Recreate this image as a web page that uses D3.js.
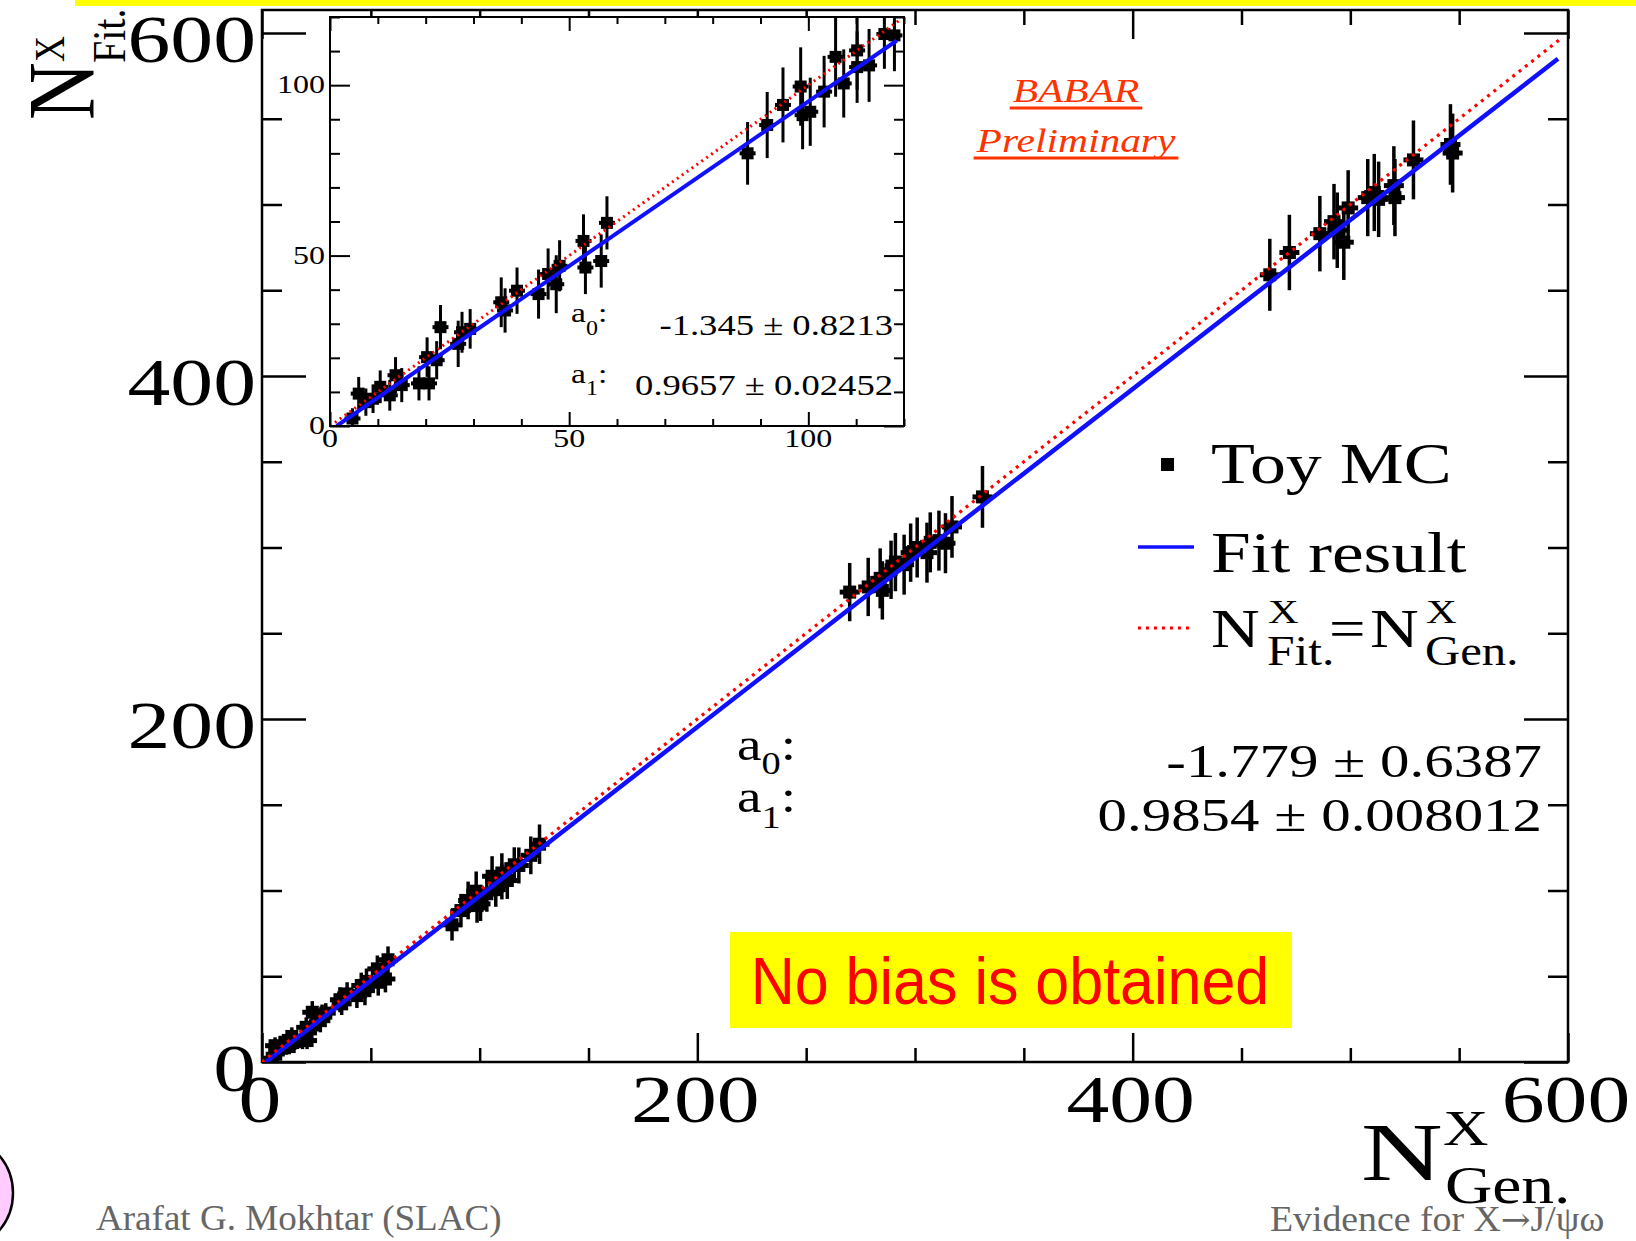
<!DOCTYPE html>
<html><head><meta charset="utf-8">
<script src="https://cdn.jsdelivr.net/npm/d3@7"></script>
<style>html,body{margin:0;padding:0;background:#fff;} svg{display:block;}</style>
</head><body>
<svg id="chart" width="1636" height="1241"></svg>
<script>
// ---------------- data ----------------
const genN = [4.7, 6.0, 7.5, 9.0, 10.5, 12.5, 13.7, 15.0, 18.6, 20.7, 20.3, 22.3, 23.1, 26.8, 27.6, 29.3,
  35.8, 36.6, 39.1, 43.6, 45.6, 47.3, 48.0, 53.0, 53.4, 56.7, 57.9,
  87.3, 91.4, 94.7, 98.4, 98.8, 100.4, 103.3, 105.7, 107.4, 110.2, 110.2, 112.7, 115.9, 118.0, 123.5, 127.5,
  270, 278.5, 284, 285, 289, 291, 295, 298, 301, 305.5, 307, 311, 314, 317, 331,
  463, 472, 486, 492.5, 494, 497, 499, 508, 511, 513, 520, 520.5, 529, 546, 547];
const fitN = [2.2, 9.5, 7.0, 8.0, 11.5, 9.0, 14.9, 12.0, 12.5, 12.5, 20.2, 19.3, 29.0, 24.1, 27.5, 28.5,
  36.3, 33.9, 39.7, 38.7, 44.6, 41.6, 47.0, 54.3, 46.5, 48.4, 59.6,
  80.0, 88.3, 94.2, 99.6, 91.2, 92.2, 98.1, 108.3, 100.5, 110.2, 105.3, 105.8, 115.0, 114.6, 120.5, 127.0,
  274, 277, 282, 275, 287, 291.5, 290, 297, 300, 297, 303, 304, 302.5, 312, 329.5,
  459, 472, 483, 490, 485, 478, 498, 504, 507, 503, 511, 504, 526, 535, 530];
const fitErr = [3.0, 4.9, 4.0, 4.2, 4.8, 4.5, 5.3, 5.0, 5.0, 5.0, 5.8, 5.6, 6.5, 6.8, 6.0, 5.8,
  7.3, 6.5, 6.8, 7.2, 7.5, 8.5, 7.5, 7.8, 7.8, 7.8, 7.8,
  9.2, 9.7, 11.0, 11.5, 10.0, 10.0, 10.5, 11.7, 10.0, 11.5, 10.5, 10.7, 10.2, 10.5, 11.0, 11.5,
  17, 17, 17.5, 17, 17, 17, 17.5, 17, 17.5, 17.5, 17.5, 17.5, 17.5, 18, 18,
  21, 22, 22, 22, 22, 22, 22, 22.5, 22.5, 22, 23, 22.5, 23, 23.5, 23];

// fit line (blue) and N_Fit = N_Gen line (red), end points
const mainFitGen = [1.8, 595.4], mainFitFit = [0, 585.0];
const mainDiagGen = [0, 597], mainDiagFit = [0, 597];
const insetFitGen = [1.4, 118.5], insetFitFit = [0, 113.1];
const insetDiagGen = [0, 119], insetDiagFit = [0, 119];

const mainTickLabels = ["0", "200", "400", "600"];
const mainTickValues = [0, 200, 400, 600];
const insetTickLabels = ["0", "50", "100"];
const insetTickValues = [0, 50, 100];

const legendLabels = ["Toy MC", "Fit result"];
const mainStatNames = ["0", "1"];
const mainStatValues = ["-1.779 \u00b1 0.6387", "0.9854 \u00b1 0.008012"];
const insetStatValues = ["-1.345 \u00b1 0.8213", "0.9657 \u00b1 0.02452"];

// ---------------- drawing ----------------
const svg = d3.select("#chart");
const SERIF = "'Liberation Serif','Times New Roman',serif";
const ST = 1.26; // horizontal stretch of the plot text

function txt(g, x, y, s, o = {}) {
  const st = o.stretch == null ? ST : o.stretch;
  let tr = `translate(${x},${y})`;
  if (o.rotate) tr += ` rotate(${o.rotate}) scale(1,${st})`; else tr += ` scale(${st},1)`;
  return g.append("text").attr("transform", tr)
    .attr("font-family", o.family || SERIF)
    .attr("font-size", o.size || 40)
    .attr("font-style", o.style || "normal")
    .attr("font-weight", o.weight || "normal")
    .attr("text-anchor", o.anchor || "start")
    .attr("fill", o.fill || "#000")
    .text(s);
}

// top yellow strip
svg.append("rect").attr("x", 75).attr("y", 0).attr("width", 1561).attr("height", 6).attr("fill", "#ffff00");

// ---- main plot scales
const x = d3.scaleLinear().domain([0, 600]).range([262, 1568]);
const y = d3.scaleLinear().domain([0, 600]).range([1062, 33]);
const yTop = y.invert(10);

const defs = svg.append("defs");
defs.append("clipPath").attr("id", "clipMain").append("rect")
  .attr("x", x(0)).attr("y", y(yTop)).attr("width", x(600) - x(0)).attr("height", y(0) - y(yTop));

const main = svg.append("g");

function tickAxis(g, axis, scale, vals, size, sw) {
  g.call(axis(scale).tickValues(vals).tickSize(size).tickFormat(""));
  g.select(".domain").remove();
  g.selectAll("line").attr("stroke", "#000").attr("stroke-width", sw);
}
const mainAll = d3.range(0, 601, 50);
const mainMinor = mainAll.filter(v => !mainTickValues.includes(v));

tickAxis(main.append("g").attr("transform", `translate(0,${y(0)})`), d3.axisBottom, x, mainMinor, -14, 2.5);
tickAxis(main.append("g").attr("transform", `translate(0,${y(0)})`), d3.axisBottom, x, mainTickValues, -29, 2.5);
tickAxis(main.append("g").attr("transform", `translate(0,${y(yTop)})`), d3.axisTop, x, mainMinor, -15, 2.5);
tickAxis(main.append("g").attr("transform", `translate(0,${y(yTop)})`), d3.axisTop, x, mainTickValues, -29, 2.5);
tickAxis(main.append("g").attr("transform", `translate(${x(0)},0)`), d3.axisLeft, y, mainMinor, -20, 2.5);
tickAxis(main.append("g").attr("transform", `translate(${x(0)},0)`), d3.axisLeft, y, mainTickValues, -44, 2.5);
tickAxis(main.append("g").attr("transform", `translate(${x(600)},0)`), d3.axisRight, y, mainMinor, -20, 2.5);
tickAxis(main.append("g").attr("transform", `translate(${x(600)},0)`), d3.axisRight, y, mainTickValues, -44, 2.5);

// frame
main.append("rect").attr("x", x(0)).attr("y", y(yTop)).attr("width", x(600) - x(0)).attr("height", y(0) - y(yTop))
  .attr("fill", "none").attr("stroke", "#000").attr("stroke-width", 2.5);

// tick labels
mainTickValues.forEach((v, i) => {
  txt(main, x(v) - 2, y(0) + 60, mainTickLabels[i], { size: 68, anchor: "middle" });
  txt(main, x(0) - 6, y(v) + 29, mainTickLabels[i], { size: 68, anchor: "end" });
});

// axis titles
txt(main, 1361, 1180, "N", { size: 82, stretch: 1.38 });
txt(main, 1443, 1145, "X", { size: 50 });
txt(main, 1445, 1203, "Gen.", { size: 52 });
txt(main, 94, 120, "N", { size: 80, rotate: -90, stretch: 1.18 });
txt(main, 64, 62, "X", { size: 36, rotate: -90, stretch: 1.15 });
txt(main, 125, 63, "Fit.", { size: 40, rotate: -90, stretch: 1.15 });

// data points
const pts = genN.map((g, i) => ({ g, f: fitN[i], e: fitErr[i] }));
const pm = main.append("g").attr("clip-path", "url(#clipMain)");
pm.selectAll("line.err").data(pts).join("line").attr("class", "err")
  .attr("x1", d => x(d.g)).attr("x2", d => x(d.g))
  .attr("y1", d => y(d.f - d.e)).attr("y2", d => y(d.f + d.e))
  .attr("stroke", "#000").attr("stroke-width", 3.5);
pm.selectAll("line.hx").data(pts).join("line").attr("class", "hx")
  .attr("x1", d => x(d.g) - 10).attr("x2", d => x(d.g) + 10)
  .attr("y1", d => y(d.f)).attr("y2", d => y(d.f))
  .attr("stroke", "#000").attr("stroke-width", 5);
pm.selectAll("rect.mk").data(pts).join("rect").attr("class", "mk")
  .attr("x", d => x(d.g) - 6.5).attr("y", d => y(d.f) - 6.5).attr("width", 13).attr("height", 13).attr("fill", "#000");

// lines
const lineGen = (xs, ys, sx, sy) => d3.line().x(d => sx(d[0])).y(d => sy(d[1]))(xs.map((v, i) => [v, ys[i]]));
pm.append("path").attr("d", lineGen(mainFitGen, mainFitFit, x, y)).attr("stroke", "#1010ff").attr("stroke-width", 4.5).attr("fill", "none");
pm.append("path").attr("d", lineGen(mainDiagGen, mainDiagFit, x, y)).attr("stroke", "#ff0000").attr("stroke-width", 3.2)
  .attr("stroke-dasharray", "3,5").attr("fill", "none");

// legend
main.append("rect").attr("x", 1161).attr("y", 458).attr("width", 13).attr("height", 13).attr("fill", "#000");
txt(main, 1211, 483, legendLabels[0], { size: 58, stretch: 1.24 });
main.append("line").attr("x1", 1138).attr("x2", 1194).attr("y1", 547).attr("y2", 547).attr("stroke", "#1010ff").attr("stroke-width", 3.5);
txt(main, 1211, 572, legendLabels[1], { size: 58, stretch: 1.23 });
main.append("line").attr("x1", 1138).attr("x2", 1194).attr("y1", 628).attr("y2", 628).attr("stroke", "#ff0000").attr("stroke-width", 3).attr("stroke-dasharray", "3,5");
txt(main, 1211, 647, "N", { size: 54, stretch: 1.25 });
txt(main, 1268, 623, "X", { size: 34, stretch: 1.25 });
txt(main, 1267, 665, "Fit.", { size: 42, stretch: 1.18 });
txt(main, 1329, 647, "=", { size: 54, stretch: 1.2 });
txt(main, 1370, 647, "N", { size: 54, stretch: 1.25 });
txt(main, 1426, 623, "X", { size: 34, stretch: 1.25 });
txt(main, 1425, 665, "Gen.", { size: 42, stretch: 1.16 });

// fit statistics (main)
[[760, 774], [812, 828]].forEach((b, i) => {
  const t = txt(main, 737, b[0], "", { size: 46, stretch: 1.2 });
  t.append("tspan").text("a");
  t.append("tspan").attr("dy", b[1] - b[0]).attr("font-size", 32).text(mainStatNames[i]);
  t.append("tspan").attr("dy", b[0] - b[1]).text(":");
  txt(main, 1542, b[1] + 3, mainStatValues[i], { size: 46, anchor: "end", stretch: 1.28 });
});

// BABAR Preliminary
const babar = [["BABAR", 102, 108], ["Preliminary", 152, 158]];
babar.forEach(b => {
  const t = txt(main, 1076, b[1], b[0], { size: 34, anchor: "middle", style: "italic", fill: "#ff3300", stretch: 1.22 });
  const w = t.node().getComputedTextLength() * 1.22;
  main.append("line").attr("x1", 1076 - w / 2 - 3).attr("x2", 1076 + w / 2 + 3).attr("y1", b[2]).attr("y2", b[2])
    .attr("stroke", "#ff3300").attr("stroke-width", 3);
});

// ---- inset
const xi = d3.scaleLinear().domain([0, 120]).range([330, 904]);
const yi = d3.scaleLinear().domain([0, 120]).range([426, 17]);
defs.append("clipPath").attr("id", "clipInset").append("rect")
  .attr("x", xi(0)).attr("y", yi(120)).attr("width", xi(120) - xi(0)).attr("height", yi(0) - yi(120));
const ins = svg.append("g");
ins.append("rect").attr("x", xi(0)).attr("y", yi(120)).attr("width", xi(120) - xi(0)).attr("height", yi(0) - yi(120)).attr("fill", "#fff");

const inAll = d3.range(0, 121, 10);
const inMinor = inAll.filter(v => !insetTickValues.includes(v));
tickAxis(ins.append("g").attr("transform", `translate(0,${yi(0)})`), d3.axisBottom, xi, inMinor, -7, 2);
tickAxis(ins.append("g").attr("transform", `translate(0,${yi(0)})`), d3.axisBottom, xi, insetTickValues, -14, 2);
tickAxis(ins.append("g").attr("transform", `translate(0,${yi(120)})`), d3.axisTop, xi, inMinor, -7, 2);
tickAxis(ins.append("g").attr("transform", `translate(0,${yi(120)})`), d3.axisTop, xi, insetTickValues, -14, 2);
tickAxis(ins.append("g").attr("transform", `translate(${xi(0)},0)`), d3.axisLeft, yi, inMinor, -10, 2);
tickAxis(ins.append("g").attr("transform", `translate(${xi(0)},0)`), d3.axisLeft, yi, insetTickValues, -20, 2);
tickAxis(ins.append("g").attr("transform", `translate(${xi(120)},0)`), d3.axisRight, yi, inMinor, -10, 2);
tickAxis(ins.append("g").attr("transform", `translate(${xi(120)},0)`), d3.axisRight, yi, insetTickValues, -20, 2);

const ip = ins.append("g").attr("clip-path", "url(#clipInset)");
const ipts = pts.filter(d => d.g <= 120);
ip.selectAll("line.err").data(ipts).join("line").attr("class", "err")
  .attr("x1", d => xi(d.g)).attr("x2", d => xi(d.g))
  .attr("y1", d => yi(d.f - d.e)).attr("y2", d => yi(d.f + d.e))
  .attr("stroke", "#000").attr("stroke-width", 3);
ip.selectAll("line.hx").data(ipts).join("line").attr("class", "hx")
  .attr("x1", d => xi(d.g) - 8).attr("x2", d => xi(d.g) + 8)
  .attr("y1", d => yi(d.f)).attr("y2", d => yi(d.f))
  .attr("stroke", "#000").attr("stroke-width", 4);
ip.selectAll("rect.mk").data(ipts).join("rect").attr("class", "mk")
  .attr("x", d => xi(d.g) - 6).attr("y", d => yi(d.f) - 6).attr("width", 12).attr("height", 12).attr("fill", "#000");
ip.append("path").attr("d", lineGen(insetFitGen, insetFitFit, xi, yi)).attr("stroke", "#1010ff").attr("stroke-width", 4).attr("fill", "none");
ip.append("path").attr("d", lineGen(insetDiagGen, insetDiagFit, xi, yi)).attr("stroke", "#ff0000").attr("stroke-width", 3)
  .attr("stroke-dasharray", "2,4").attr("fill", "none");

ins.append("rect").attr("x", xi(0)).attr("y", yi(120)).attr("width", xi(120) - xi(0)).attr("height", yi(0) - yi(120))
  .attr("fill", "none").attr("stroke", "#000").attr("stroke-width", 2);

insetTickValues.forEach((v, i) => {
  txt(ins, xi(v), yi(0) + 21, insetTickLabels[i], { size: 25, anchor: "middle", stretch: 1.28 });
  txt(ins, xi(0) - 5, yi(v) + 8, insetTickLabels[i], { size: 25, anchor: "end", stretch: 1.28 });
});

[[322, 335], [383, 395]].forEach((b, i) => {
  const t = txt(ins, 571, b[0], "", { size: 28, stretch: 1.2 });
  t.append("tspan").text("a");
  t.append("tspan").attr("dy", b[1] - b[0]).attr("font-size", 20).text(mainStatNames[i]);
  t.append("tspan").attr("dy", b[0] - b[1]).text(":");
  txt(ins, 893, b[1], insetStatValues[i], { size: 30, anchor: "end", stretch: 1.22 });
});

// ---- "No bias is obtained" box
svg.append("rect").attr("x", 730).attr("y", 932).attr("width", 562).attr("height", 96).attr("fill", "#ffff00");
txt(svg, 1010, 1004, "No bias is obtained", { size: 67, anchor: "middle", family: "'Liberation Sans',Arial,sans-serif", fill: "#ff0000", stretch: 0.91 });

// ---- footer
svg.append("circle").attr("cx", -45).attr("cy", 1193).attr("r", 58).attr("fill", "#ffccff").attr("stroke", "#000").attr("stroke-width", 2.5);
txt(svg, 96, 1230, "Arafat G. Mokhtar (SLAC)", { size: 36, fill: "#666", stretch: 1.03 });
const ev = txt(svg, 1270, 1231, "Evidence for X", { size: 35, fill: "#666", stretch: 1.08 });
ev.append("tspan").attr("font-family", "'DejaVu Serif',serif").attr("font-size", 33).text("\u2192");
ev.append("tspan").text("J/\u03c8\u03c9");
</script>
</body></html>
